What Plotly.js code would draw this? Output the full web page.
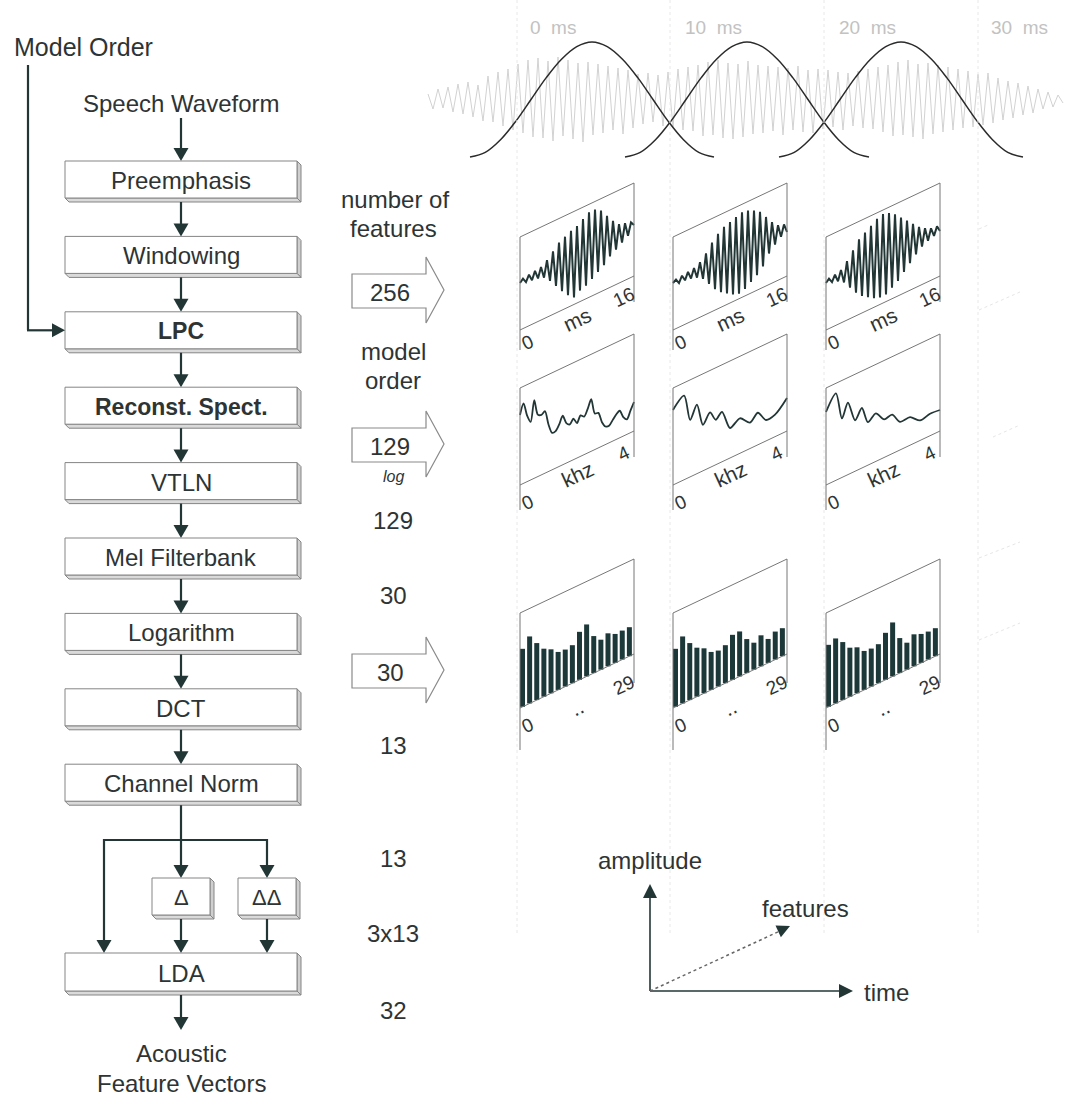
<!DOCTYPE html>
<html>
<head>
<meta charset="utf-8">
<script src="https://cdn.plot.ly/plotly-3.0.1.min.js"></script>
<style>
  html, body { margin: 0; padding: 0; background: #fff; }
  #fig { width: 1075px; height: 1098px; }
</style>
</head>
<body>
<div id="fig"></div>
<script>
// ---------------- data ----------------
const pipelineSteps = ['Preemphasis', 'Windowing', 'LPC', 'Reconst. Spect.', 'VTLN',
                       'Mel Filterbank', 'Logarithm', 'DCT', 'Channel Norm'];
const boldSteps = ['LPC', 'Reconst. Spect.'];
const deltaSteps = ['\u0394', '\u0394\u0394'];
const finalStep = 'LDA';

const blockArrowLabels = ['256', '129', '30'];
const featureCountLabels = ['129', '30', '13', '13', '3x13', '32'];
const timeTickLabels = ['0\u00a0\u00a0ms', '10\u00a0\u00a0ms', '20\u00a0\u00a0ms', '30\u00a0\u00a0ms'];

const waveAxisLabels = ['0', 'ms', '16'];
const specAxisLabels = ['0', 'khz', '4'];
const melAxisLabels = ['0', '..', '29'];

// speech signal extremes (alternating), sampled across the 0-35 ms strip
const speechSamples = [6,-9,11,-8,13,-12,16,-14,18,-17,15,-21,24,-22,28,-26,31,-30,36,-33,
  40,-37,42,-38,39,-41,43,-36,40,-39,37,-42,38,-35,36,-33,34,-30,32,-34,
  30,-28,26,-24,27,-22,25,-26,28,-27,31,-30,33,-31,35,-36,38,-35,40,-38,
  37,-39,36,-37,39,-34,35,-33,34,-31,33,-35,32,-30,34,-32,30,-33,31,-29,
  30,-27,28,-30,27,-26,29,-28,31,-29,33,-32,35,-36,38,-35,40,-37,36,-39,
  37,-34,35,-32,33,-30,31,-28,29,-27,26,-25,27,-23,22,-20,19,-18,17,-15,
  14,-13,11,-9,8,-7,5,-3];

// analysis window shape (relative height across one window)
const windowShape = [0, 0.04, 0.15, 0.31, 0.5, 0.69, 0.85, 0.96, 1, 0.96, 0.85, 0.69, 0.5, 0.31, 0.15, 0.04, 0];

// windowed frames, 16 ms each
const frame1 = [0,3,-2,4,-3,5,-4,6,-6,10,-12,16,-20,22,-28,25,-35,28,-40,30,-36,34,-34,38,-30,38,-26,34,-22,26,-16,18,-12,12,-8,10,-4,8,4];
const frame2 = [0,2,-3,3,-3,4,-4,5,-6,8,-10,14,-18,22,-26,28,-32,32,-36,34,-40,36,-42,38,-40,37,-36,34,-32,30,-26,22,-16,14,-10,8,-5,6,-3];
const frame3 = [0,3,-2,4,-4,6,-8,12,-16,20,-24,28,-30,32,-34,36,-38,40,-40,42,-40,40,-36,36,-32,30,-26,24,-20,18,-14,12,-9,8,-6,5,-4,4,-2];

// reconstructed LPC spectra (0-4 kHz)
const spec1Khz = [0,0.125,0.25,0.375,0.5,0.625,0.75,0.875,1,1.125,1.25,1.375,1.5,1.625,1.75,1.875,2,
                  2.125,2.25,2.375,2.5,2.625,2.75,2.875,3,3.125,3.25,3.375,3.5,3.625,3.75,3.875,4];
const spec1Level = [70,80,66,58,78,62,60,62,47,37,37,42,49,40,37,41,35,41,38,44,52,36,35,24,18,17,21,25,27,19,15,22,29];
const spec2Khz = [0,0.39,0.6,0.84,1.05,1.3,1.5,1.72,2.0,2.35,2.7,2.98,3.26,3.58,4];
const spec2Level = [75,84,57,69,46,55,45,50,30,35,26,32,21,22,33];
const spec3Khz = [0,0.35,0.56,0.77,1.02,1.26,1.47,1.75,2.04,2.32,2.6,2.95,3.3,3.65,4];
const spec3Level = [73,87,59,72,51,60,43,48,38,39,28,28,20,22,21];

// log mel filterbank energies
const mel1 = [58,67,57,48,44,38,37,38,48,52,37,30,33,29,29,29];
const mel2 = [58,67,57,49,45,38,36,38,45,45,34,27,31,24,28,28];
const mel3 = [62,65,58,49,46,39,38,39,47,54,35,27,32,29,28,28];

// ---------------- drawing ----------------
const FONT = 'Liberation Sans, Arial, Helvetica, sans-serif';
const INK = '#223636';
const TXT = '#2e3434';
const EDGE = '#858585';
const shapes = [];
const annotations = [];
const traces = [];

function seg(x0, y0, x1, y1, color, width, dash) {
  shapes.push({type: 'line', xref: 'x', yref: 'y', x0, y0, x1, y1,
               line: {color, width, dash: dash || 'solid'}});
}
function poly(pts, fill, edge, lw) {
  const d = 'M' + pts.map(p => p[0].toFixed(1) + ',' + p[1].toFixed(1)).join('L') + 'Z';
  shapes.push({type: 'path', xref: 'x', yref: 'y', path: d, fillcolor: fill,
               line: {color: edge || fill, width: lw == null ? 0 : lw}});
}
function label(x, y, t, size, opt) {
  opt = opt || {};
  annotations.push({x, y, xref: 'x', yref: 'y', text: t, showarrow: false,
    xanchor: opt.xanchor || 'center', yanchor: 'middle', textangle: opt.angle || 0,
    font: {family: FONT, size, color: opt.color || TXT, style: opt.style || 'normal',
           weight: opt.weight || 'normal'}});
}
function arrowDown(x, y0, y1) {
  seg(x, y0, x, y1 - 12, INK, 2.2);
  poly([[x - 7.5, y1 - 13], [x + 7.5, y1 - 13], [x, y1]], INK);
}
function arrowRight(x0, x1, y) {
  seg(x0, y, x1 - 12, y, INK, 2.2);
  poly([[x1 - 13, y - 7], [x1 - 13, y + 7], [x1, y]], INK);
}
function box3d(x0, y0, x1, y1) {
  const d = 4;
  poly([[x1, y0], [x1 + d, y0 + d], [x1 + d, y1 + d], [x1, y1]], '#cfcfcf', EDGE, 1);
  poly([[x0, y1], [x1, y1], [x1 + d, y1 + d], [x0 + d, y1 + d]], '#dadada', EDGE, 1);
  shapes.push({type: 'rect', xref: 'x', yref: 'y', x0, y0, x1, y1,
               fillcolor: '#ffffff', line: {color: EDGE, width: 1}});
}

// ---- left column: processing chain ----
const BX0 = 65, BX1 = 297, BCX = 181, BH = 37, TOP0 = 161, STEP = 75.4;
label(12, 47, 'Model Order', 25, {xanchor: 'left'});
label(BCX, 103, 'Speech Waveform', 24);
arrowDown(BCX, 118, TOP0);
pipelineSteps.forEach((name, i) => {
  const y0 = TOP0 + i * STEP;
  box3d(BX0, y0, BX1, y0 + BH);
  const bold = boldSteps.includes(name);
  label(BCX, y0 + BH / 2 + 1, name, bold ? 23 : 24, {weight: bold ? 'bold' : 'normal'});
  if (i < pipelineSteps.length - 1) arrowDown(BCX, y0 + BH + 4, y0 + STEP);
});
// model order feeds LPC
const lpcMid = TOP0 + 2 * STEP + BH / 2;
seg(28, 65, 28, lpcMid, INK, 2.2);
arrowRight(27, BX0, lpcMid);

// branching after channel normalisation
const normBottom = TOP0 + 8 * STEP + BH;
const DY0 = 878, DY1 = 915, LY0 = 953, LY1 = 991;
const branchY = 840, leftX = 104, rightX = 267;
arrowDown(BCX, normBottom + 4, DY0);
seg(leftX, branchY, rightX, branchY, INK, 2.2);
arrowDown(leftX, branchY - 1, LY0);
arrowDown(rightX, branchY - 1, DY0);
[[152, 210], [238, 296]].forEach((xs, i) => {
  box3d(xs[0], DY0, xs[1], DY1);
  label((xs[0] + xs[1]) / 2, (DY0 + DY1) / 2 + 1, deltaSteps[i], 22);
  arrowDown(i === 0 ? BCX : rightX, DY1 + 4, LY0);
});
box3d(BX0, LY0, BX1, LY1);
label(BCX, (LY0 + LY1) / 2 + 1, finalStep, 24);
arrowDown(BCX, LY1 + 4, 1030);
label(BCX, 1053, 'Acoustic', 24);
label(BCX, 1083, 'Feature Vectors', 24);

// ---- middle column: feature counts ----
label(395, 199, 'number of', 24);
label(393, 228, 'features', 24);
label(393, 351, 'model', 24);
label(393, 380, 'order', 24);
label(393, 476, 'log', 16, {style: 'italic'});
[291, 445, 671].forEach((cy, i) => {
  poly([[352, cy - 17], [426, cy - 17], [426, cy - 34], [444, cy - 1], [426, cy + 32],
        [426, cy + 17], [352, cy + 17]], '#ffffff', '#8a8a8a', 1.2);
  label(390, cy + 1, blockArrowLabels[i], 24);
});
[520, 595, 745, 858, 933, 1010].forEach((cy, i) => label(393, cy, featureCountLabels[i], 24));

// ---- right side: faint time grid ----
[517, 670, 824, 978].forEach(x => seg(x, 0, x, 935, '#e8e8e8', 1, 'dot'));
[553, 713, 867, 1019].forEach((x, i) => label(x, 27, timeTickLabels[i], 19, {color: '#c2c2c2'}));

// speech waveform strip
traces.push({type: 'scatter', mode: 'lines', hoverinfo: 'skip',
  x: speechSamples.map((_, i) => 428 + 5 * i),
  y: speechSamples.map(v => 100 - v),
  line: {color: '#d2d2d2', width: 1}});

// overlapping analysis windows
[592, 747, 901].forEach(c => {
  traces.push({type: 'scatter', mode: 'lines', hoverinfo: 'skip',
    x: windowShape.map((_, k) => c + (k / (windowShape.length - 1) - 0.5) * 244),
    y: windowShape.map(w => 157 - w * 115),
    line: {color: '#2b2b2b', width: 1.5, shape: 'spline', smoothing: 1}});
});

// oblique panels
const PW = 114, RISE = 54;
const cols = [520, 673, 826];
const frames = [frame1, frame2, frame3];
const spectra = [[spec1Khz, spec1Level], [spec2Khz, spec2Level], [spec3Khz, spec3Level]];
const mels = [mel1, mel2, mel3];
function panel(L, top, bottom, leftEnd, rightEnd) {
  seg(L, top, L + PW, top - RISE, '#777', 1);
  seg(L, bottom, L + PW, bottom - RISE, '#777', 1);
  seg(L, top, L, leftEnd, '#777', 1);
  seg(L + PW, top - RISE, L + PW, rightEnd, '#777', 1);
}
function axisLabels(L, labels, y0, y1, y2) {
  label(L + 7, y0, labels[0], 19, {angle: -25});
  label(L + 57, y1, labels[1], 21, {angle: -25});
  label(L + 103, y2, labels[2], 19, {angle: -25});
}
cols.forEach((L, c) => {
  // windowed frame
  panel(L, 237, 330, 350, 302);
  const f = frames[c];
  traces.push({type: 'scatter', mode: 'lines', hoverinfo: 'skip',
    x: f.map((_, i) => L + PW * i / (f.length - 1)),
    y: f.map((v, i) => 283 - RISE * i / (f.length - 1) - v),
    line: {color: INK, width: 2}});
  axisLabels(L, waveAxisLabels, 342, 319, 297);

  // spectrum
  panel(L, 388, 485, 510, 457);
  const [kh, lv] = spectra[c];
  traces.push({type: 'scatter', mode: 'lines', hoverinfo: 'skip',
    x: kh.map(k => L + PW * k / 4),
    y: kh.map((k, i) => 485 - RISE * k / 4 - lv[i]),
    line: {color: INK, width: 1.8, shape: 'spline', smoothing: 0.8}});
  axisLabels(L, specAxisLabels, 502, 474, 453);

  // mel filterbank energies
  panel(L, 613, 708, 750, 683);
  const m = mels[c];
  const bx = [], by = [];
  m.forEach((h, j) => {
    const u = (j * PW / m.length + 2.5) / PW;
    const yb = 708 - RISE * u;
    bx.push(L + PW * u, L + PW * u, null);
    by.push(yb, yb - h, null);
  });
  traces.push({type: 'scatter', mode: 'lines', hoverinfo: 'skip', x: bx, y: by,
    line: {color: '#1d3838', width: 5}});
  axisLabels(L, melAxisLabels, 725, 707, 685);
});

// faint continuation of a fourth column
[[979, 229, 988, 225], [979, 310, 1020, 292], [993, 437, 1020, 425],
 [979, 558, 1020, 542], [979, 640, 1020, 623]].forEach(s => seg(s[0], s[1], s[2], s[3], '#e6e6e6', 1, 'dot'));

// ---- coordinate key ----
const OX = 650, OY = 991;
seg(OX, OY, OX, 897, INK, 1.6);
poly([[OX - 7, 898], [OX + 7, 898], [OX, 884]], INK);
label(OX, 860, 'amplitude', 24);
seg(OX, OY, 840, OY, INK, 1.6);
poly([[839, OY - 7], [839, OY + 7], [853, OY]], INK);
label(862, 992, 'time', 24, {xanchor: 'left'});
seg(OX, OY, 780, 931, '#666', 1.5, 'dot');
poly([[780.9, 937.3], [775.5, 925.5], [790, 926]], INK);
label(805, 908, 'features', 24);

const layout = {
  width: 1075, height: 1098,
  margin: {l: 0, r: 0, t: 0, b: 0},
  paper_bgcolor: '#ffffff', plot_bgcolor: '#ffffff',
  showlegend: false,
  xaxis: {range: [0, 1075], visible: false, fixedrange: true},
  yaxis: {range: [1098, 0], visible: false, fixedrange: true},
  shapes, annotations
};
Plotly.newPlot('fig', traces, layout, {staticPlot: true, displayModeBar: false});
</script>
</body>
</html>
